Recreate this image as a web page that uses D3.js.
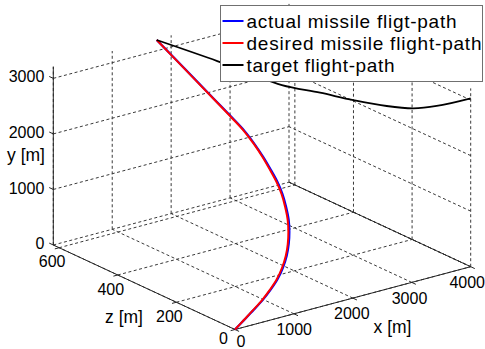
<!DOCTYPE html>
<html>
<head>
<meta charset="utf-8">
<script src="https://cdn.jsdelivr.net/npm/d3@7/dist/d3.min.js"></script>
<style>
  html, body { margin: 0; padding: 0; background: #fff; }
  svg { display: block; font-family: "Liberation Sans", Arial, sans-serif; }
</style>
</head>
<body>
<svg id="chart" width="485" height="349"></svg>
<script>
// Missile and target flight paths in metres (x: downrange, y: altitude, z: crossrange)
const desiredX = [0, 156, 325, 490, 651, 796, 936, 1060, 1164, 1254, 1332, 1403, 1461, 1501, 1525, 1556, 1583, 1600, 1618, 1640, 1685, 1740];
const desiredY = [0, 125, 253, 377, 499, 630, 774, 926, 1078, 1229, 1378, 1538, 1695, 1838, 1981, 2128, 2270, 2407, 2527, 2703, 2958, 3206];
const desiredZ = [0, 1, 3, 6, 12, 18, 28, 40, 54, 70, 88, 111, 135, 160, 187, 219, 254, 291, 336, 404, 509, 617];

const actualX = [0, 162, 334, 502, 665, 811, 952, 1077, 1181, 1271, 1349, 1419, 1476, 1515, 1538, 1567, 1592, 1608, 1625, 1645, 1688, 1740];
const actualY = [0, 125, 253, 377, 499, 630, 774, 926, 1078, 1229, 1378, 1538, 1695, 1838, 1981, 2128, 2270, 2407, 2527, 2703, 2958, 3206];
const actualZ = [0, 1, 3, 6, 12, 18, 28, 40, 54, 70, 88, 111, 135, 160, 187, 219, 254, 291, 336, 404, 509, 617];

const targetX = [4000, 3756, 3587, 3395, 3155, 2916, 2641, 2415, 2176, 1740];
const targetY = [3032, 2798, 2691, 2659, 2673, 2712, 2744, 2864, 2996, 3206];
const targetZ = [0, 67, 113, 165, 231, 296, 371, 433, 498, 617];

const xTicks = [0, 1000, 2000, 3000, 4000];
const yTicks = [0, 1000, 2000, 3000];
const zTicks = [0, 200, 400, 600];

const xDomain = [0, 4000];
const yDomain = [0, 3210];
const zDomain = [0, 620];

const seriesNames = ["actual missile fligt-path", "desired missile flight-path", "target flight-path"];
const seriesColors = ["#0000ff", "#ff0000", "#000000"];

// ---- oblique 3-D projection: each axis spans a fixed screen vector ----
const origin = [235, 329.5];
const xSpan = [235.7, -62.8];
const ySpan = [0, -178.3];
const zSpan = [-181.7, -84.5];

const sx = d3.scaleLinear().domain(xDomain).range([0, 1]);
const sy = d3.scaleLinear().domain(yDomain).range([0, 1]);
const sz = d3.scaleLinear().domain(zDomain).range([0, 1]);

function proj(x, y, z) {
  const a = sx(x), b = sy(y), c = sz(z);
  return [origin[0] + a * xSpan[0] + b * ySpan[0] + c * zSpan[0],
          origin[1] + a * xSpan[1] + b * ySpan[1] + c * zSpan[1]];
}

const svg = d3.select("#chart");
const xMax = xDomain[1], yMax = yDomain[1], zMax = zDomain[1];

// ---- grid on the floor and the two back walls ----
const grid = [];
xTicks.forEach(x => { grid.push([[x, 0, 0], [x, 0, zMax]]); grid.push([[x, 0, zMax], [x, yMax, zMax]]); });
zTicks.forEach(z => { grid.push([[0, 0, z], [xMax, 0, z]]); grid.push([[xMax, 0, z], [xMax, yMax, z]]); });
yTicks.forEach(y => { grid.push([[0, y, zMax], [xMax, y, zMax]]); grid.push([[xMax, y, 0], [xMax, y, zMax]]); });

svg.append("g").selectAll("line").data(grid).join("line")
  .attr("x1", d => proj(...d[0])[0]).attr("y1", d => proj(...d[0])[1])
  .attr("x2", d => proj(...d[1])[0]).attr("y2", d => proj(...d[1])[1])
  .attr("stroke", "#3a3a3a").attr("stroke-width", 1)
  .attr("stroke-dasharray", "3,2.5");

// ---- axis lines ----
const axes = [
  [[0, 0, 0], [xMax, 0, 0]],
  [[0, 0, 0], [0, 0, zMax]],
  [[0, 0, zMax], [0, yMax, zMax]],
  [[xMax, 0, 0], [xMax, 0, zMax]]
];
svg.append("g").selectAll("line").data(axes).join("line")
  .attr("x1", d => proj(...d[0])[0]).attr("y1", d => proj(...d[0])[1])
  .attr("x2", d => proj(...d[1])[0]).attr("y2", d => proj(...d[1])[1])
  .attr("stroke", "#262626").attr("stroke-width", 1);

// tick marks, pointing out of the box
function unit(v, len) { const n = Math.hypot(v[0], v[1]); return [v[0] / n * len, v[1] / n * len]; }
const xTickDir = unit([-zSpan[0], -zSpan[1]], 4.5);
const zTickDir = unit([-xSpan[0], -xSpan[1]], 4.5);
const yTickDir = unit(zSpan, 4.5);

const tickG = svg.append("g").attr("stroke", "#262626").attr("stroke-width", 1);
xTicks.forEach(x => { const p = proj(x, 0, 0); tickG.append("line").attr("x1", p[0]).attr("y1", p[1]).attr("x2", p[0] + xTickDir[0]).attr("y2", p[1] + xTickDir[1]); });
zTicks.forEach(z => { const p = proj(0, 0, z); tickG.append("line").attr("x1", p[0]).attr("y1", p[1]).attr("x2", p[0] + zTickDir[0]).attr("y2", p[1] + zTickDir[1]); });
yTicks.forEach(y => { const p = proj(0, y, zMax); tickG.append("line").attr("x1", p[0]).attr("y1", p[1]).attr("x2", p[0] + yTickDir[0]).attr("y2", p[1] + yTickDir[1]); });

// ---- tick labels ----
const labelG = svg.append("g").attr("font-size", "16px").attr("fill", "#000");
xTicks.forEach(x => {
  const p = proj(x, 0, 0);
  const dx = x === 0 ? 6 : 1.5 - 1.25 * x / 1000;
  labelG.append("text")
    .attr("x", p[0] + dx).attr("y", p[1] + (x === 0 ? 11.5 : 15.5))
    .attr("dy", "0.35em").attr("text-anchor", "middle").text(x);
});
zTicks.forEach(z => {
  const p = proj(0, 0, z);
  labelG.append("text")
    .attr("x", p[0] + (z === 0 ? -11.5 : -7)).attr("y", p[1] + (z === 0 ? 9 : 14))
    .attr("dy", "0.35em").attr("text-anchor", "middle").text(z);
});
yTicks.forEach(y => {
  const p = proj(0, y, zMax);
  labelG.append("text")
    .attr("x", p[0] - 9).attr("y", p[1] - 1.5)
    .attr("dy", "0.35em").attr("text-anchor", "end").text(y);
});

// axis titles
const titleG = svg.append("g").attr("font-size", "17.5px").attr("fill", "#000").attr("text-anchor", "middle");
titleG.append("text").attr("x", 392.5).attr("y", 327).attr("dy", "0.35em").text("x [m]");
titleG.append("text").attr("x", 124).attr("y", 317).attr("dy", "0.35em").text("z [m]");
titleG.append("text").attr("x", 26).attr("y", 155).attr("dy", "0.35em").text("y [m]");

// ---- flight paths ----
const line = d3.line().curve(d3.curveCatmullRom.alpha(0.5));
const series = [
  { xs: actualX, ys: actualY, zs: actualZ, w: 2.2 },
  { xs: desiredX, ys: desiredY, zs: desiredZ, w: 2 },
  { xs: targetX, ys: targetY, zs: targetZ, w: 1.8 }
];
series.forEach((s, i) => {
  const pts = s.xs.map((x, k) => proj(x, s.ys[k], s.zs[k]));
  svg.append("path").attr("d", line(pts))
    .attr("fill", "none").attr("stroke", seriesColors[i])
    .attr("stroke-width", s.w).attr("stroke-linejoin", "round");
});

// ---- legend ----
const legend = svg.append("g");
legend.append("rect").attr("x", 220.5).attr("y", 5.5).attr("width", 262).attr("height", 76)
  .attr("fill", "#fff").attr("stroke", "#707070").attr("stroke-width", 1);
const rowY = [21, 43, 65];
const textWidths = [210, 235, 148];
seriesNames.forEach((name, i) => {
  legend.append("line").attr("x1", 222.5).attr("x2", 243.5).attr("y1", rowY[i]).attr("y2", rowY[i])
    .attr("stroke", seriesColors[i]).attr("stroke-width", 2);
  legend.append("text").attr("x", 246.5).attr("y", rowY[i]).attr("dy", "0.35em")
    .attr("font-size", "19px").attr("fill", "#000")
    .attr("textLength", textWidths[i]).attr("lengthAdjust", "spacing")
    .text(name);
});
</script>
</body>
</html>
